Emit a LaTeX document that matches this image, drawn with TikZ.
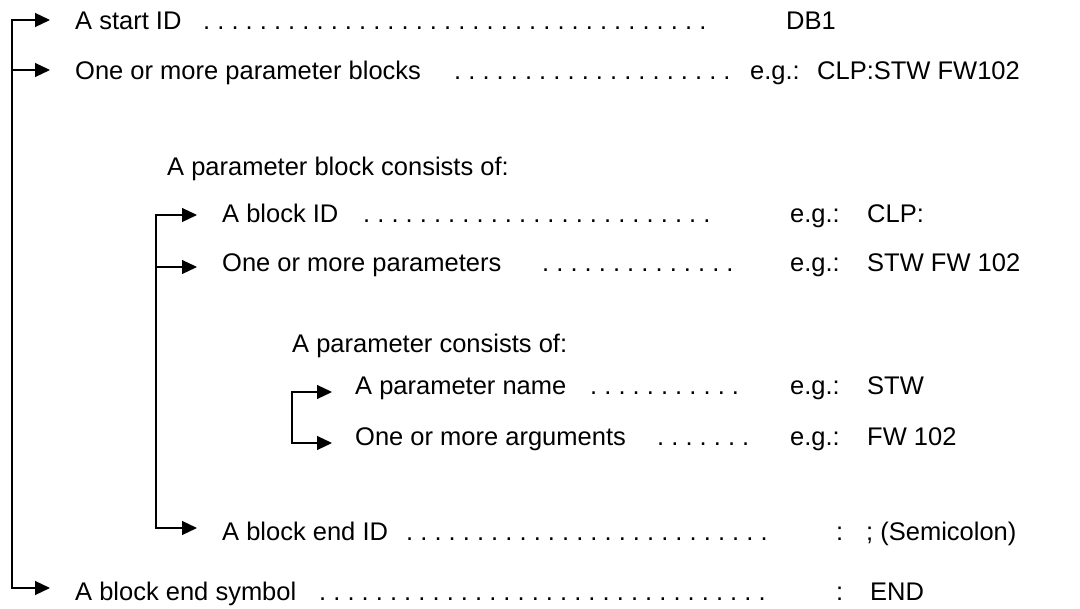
\documentclass[tikz,border=0pt]{standalone}
\usepackage{fontspec}
\setmainfont{Liberation Sans}
\usetikzlibrary{arrows.meta}
\newcommand\leaderdots[1]{\foreach \i in {1,...,#1}{.\ }}
\begin{document}
\begin{tikzpicture}[x=1pt,y=-1pt,
  txt/.style={inner sep=0pt, anchor=base west, font=\fontsize{25.5}{30}\selectfont},
  conn/.style={line width=1.2pt, line join=miter},
  tipboth/.style={conn, {Triangle[length=15pt,width=14pt]}-{Triangle[length=15pt,width=14pt]}},
  tipend/.style={conn, -{Triangle[length=15pt,width=14pt]}},
]
\useasboundingbox (0,0) rectangle (1080,609);

% level 1 texts
\node[txt] (t1) at (75,30) {A start ID};
\node[txt] (d1) at (203,30) {\leaderdots{36}};
\node[txt] (v1) at (786,30) {DB1};

\node[txt] (t2) at (75,80) {One or more parameter blocks};
\node[txt] (d2) at (454,80) {\leaderdots{20}};
\node[txt] (e2) at (750,80) {e.g.:};
\node[txt] (v2) at (817,80) {CLP:STW FW102};

% level 2
\node[txt] (h2) at (167,176) {A parameter block consists of:};

\node[txt] (t3) at (222,223) {A block ID};
\node[txt] (d3) at (363,223) {\leaderdots{25}};
\node[txt] (e3) at (790,223) {e.g.:};
\node[txt] (v3) at (867,223) {CLP:};

\node[txt] (t4) at (222,272) {One or more parameters};
\node[txt] (d4) at (542,272) {\leaderdots{14}};
\node[txt] (e4) at (790,272) {e.g.:};
\node[txt] (v4) at (867,272) {STW FW 102};

% level 3
\node[txt] (h3) at (292,353) {A parameter consists of:};

\node[txt] (t5) at (355,395) {A parameter name};
\node[txt] (d5) at (590,395) {\leaderdots{11}};
\node[txt] (e5) at (790,395) {e.g.:};
\node[txt] (v5) at (867,395) {STW};

\node[txt] (t6) at (355,446) {One or more arguments};
\node[txt] (d6) at (657,446) {\leaderdots{7}};
\node[txt] (e6) at (790,446) {e.g.:};
\node[txt] (v6) at (867,446) {FW 102};

% level 2 end
\node[txt] (t7) at (222,540) {A block end ID};
\node[txt] (d7) at (406,540) {\leaderdots{26}};
\node[txt] (c7) at (836,540) {:};
\node[txt] (v7) at (866,540) {; (Semicolon)};

% level 1 end
\node[txt] (t8) at (75,601) {A block end symbol};
\node[txt] (d8) at (319,601) {\leaderdots{32}};
\node[txt] (c8) at (836,601) {:};
\node[txt] (v8) at (870,601) {END};

% bracket coordinates
\coordinate (o1) at (12,20);  \coordinate (a1) at (50,20);
\coordinate (o2) at (12,70);  \coordinate (a2) at (50,70);
\coordinate (o8) at (12,588); \coordinate (a8) at (50,588);

\coordinate (p3) at (156,215); \coordinate (b3) at (197,215);
\coordinate (p4) at (156,267); \coordinate (b4) at (197,267);
\coordinate (p7) at (156,528); \coordinate (b7) at (197,528);

\coordinate (q5) at (292,392); \coordinate (c5) at (332,392);
\coordinate (q6) at (292,443); \coordinate (c6) at (332,443);

% connectors
\draw[tipboth] (a1) -- (o1) -- (o8) -- (a8);
\draw[tipend] (o2) -- (a2);

\draw[tipboth] (b3) -- (p3) -- (p7) -- (b7);
\draw[tipend] (p4) -- (b4);

\draw[tipboth] (c5) -- (q5) -- (q6) -- (c6);
\end{tikzpicture}
\end{document}
